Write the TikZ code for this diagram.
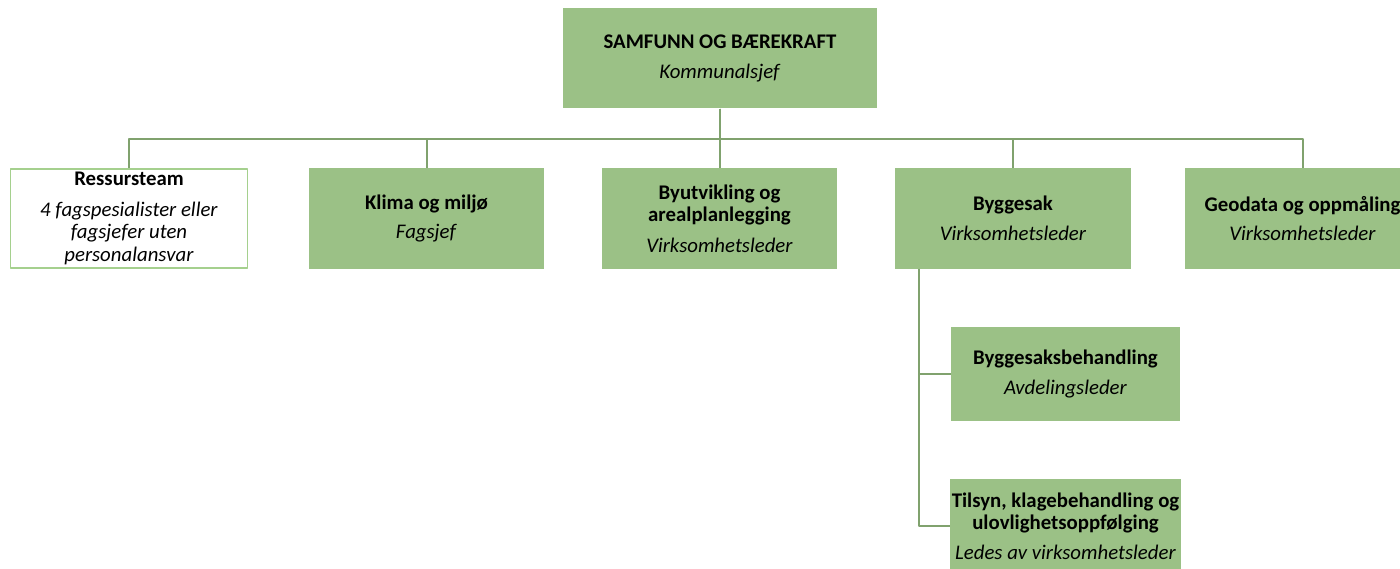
\documentclass[tikz,border=0pt]{standalone}
\usepackage{fontspec}
\setmainfont{Carlito}
\definecolor{boxgreen}{RGB}{155,193,134}
\definecolor{linegreen}{RGB}{128,162,110}
\definecolor{edgegreen}{RGB}{165,208,142}
\tikzset{
  unit/.style={rectangle, fill=boxgreen, draw=none, align=center,
    minimum width=235pt, minimum height=101pt, inner sep=2pt,
    font=\fontsize{20.8}{22.6}\selectfont},
  subunit/.style={unit, minimum width=229pt},
  conn/.style={draw=linegreen, line width=2pt}
}
\begin{document}
\begin{tikzpicture}[x=1pt,y=-1pt,line join=round]
    \useasboundingbox (0,0) rectangle (1400,569);
    \clip (0,0) rectangle (1400,569);

    % Top level
    \node[unit, minimum width=314pt, minimum height=100pt] (top) at (720,58.5)
      {\textbf{SAMFUNN OG BÆREKRAFT}\\[7pt]\textit{Kommunalsjef}};

    % Second level
    \node[unit, fill=white, draw=edgegreen, line width=1.8pt, minimum width=237pt, minimum height=99pt]
      (ressurs) at (129,218.5)
      {\textbf{Ressursteam}\\[8pt]\textit{4 fagspesialister eller}\\\textit{fagsjefer uten}\\\textit{personalansvar}};
    \node[unit] (klima) at (426.5,218.5) {\textbf{Klima og miljø}\\[7pt]\textit{Fagsjef}};
    \node[unit] (byutv) at (719.5,218.5)
      {\textbf{Byutvikling og}\\\textbf{arealplanlegging}\\[8pt]\textit{Virksomhetsleder}};
    \node[unit, minimum width=236pt] (byggesak) at (1013,218.5)
      {\textbf{Byggesak}\\[7pt]\textit{Virksomhetsleder}};
    \node[unit] (geodata) at (1302.5,218.5)
      {\textbf{Geodata og oppmåling}\\[7pt]\textit{Virksomhetsleder}};

    % Under Byggesak
    \node[subunit, minimum height=94pt] (behandling) at (1065.5,374)
      {\textbf{Byggesaksbehandling}\\[7pt]\textit{Avdelingsleder}};
    \node[subunit, minimum height=94pt] (tilsyn) at (1065.5,526)
      {\textbf{Tilsyn, klagebehandling og}\\\textbf{ulovlighetsoppfølging}\\[7pt]\textit{Ledes av virksomhetsleder}};

    % Connectors
    \foreach \child in {ressurs, klima, byutv, byggesak, geodata}
      \draw[conn] (top.south) -- ++(0,30) -| (\child.north);

    \coordinate (stem) at ([xshift=24pt]byggesak.south west);
    \foreach \child in {behandling, tilsyn}
      \draw[conn] (stem) |- (\child.west);
\end{tikzpicture}
\end{document}
